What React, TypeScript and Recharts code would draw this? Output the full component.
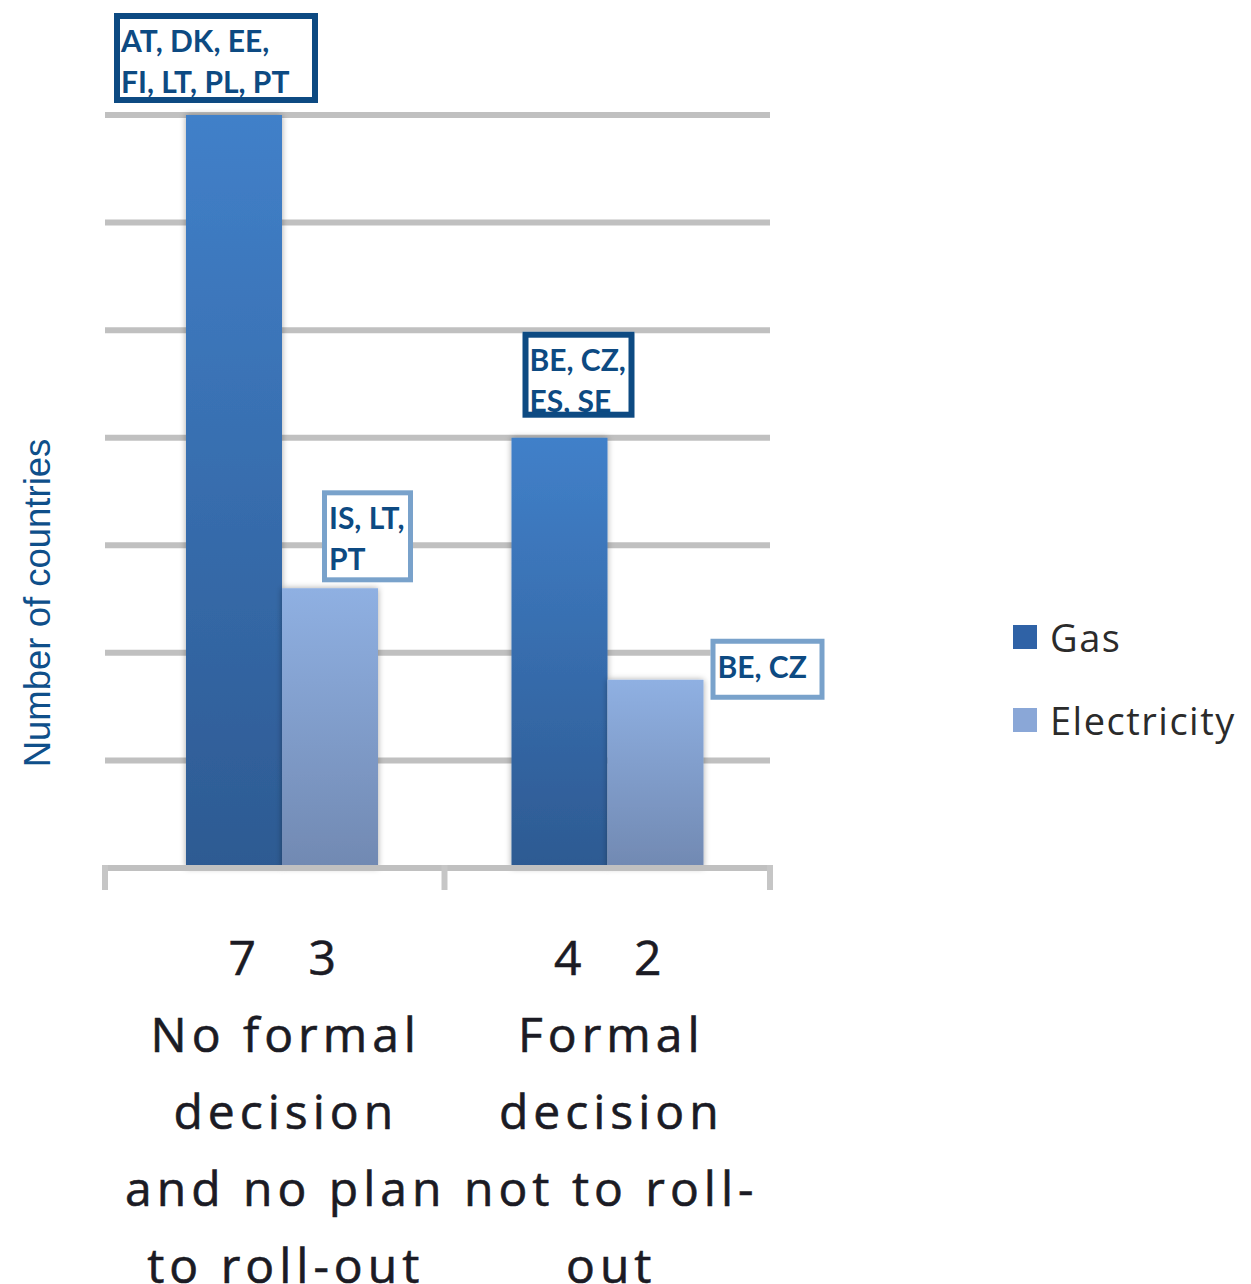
import React from "react";
import { Bar, BarChart, CartesianGrid, LabelList, Legend, XAxis, YAxis } from "recharts";

const categoryLines = [
  ["No formal", "decision", "and no plan", "to roll-out"],
  ["Formal", "decision", "not to roll-", "out"]
];
const gasCounts = [7, 4];
const electricityCounts = [3, 2];
// electricity bars are drawn shorter than their counts in the picture
const electricityHeights = [2.6, 1.75];
const gasCountries = [["AT, DK, EE,", "FI, LT, PL, PT"], ["BE, CZ,", "ES, SE"]];
const electricityCountries = [["IS, LT,", "PT"], ["BE, CZ"]];
const yTicks = [0, 1, 2, 3, 4, 5, 6, 7];

const data = categoryLines.map((lines, i) => ({
  name: lines.join(" "),
  gas: gasCounts[i],
  electricity: electricityHeights[i]
}));

// where each country box sits, relative to its bar's top-left corner
const gasBoxes = [
  { dx: -72, dy: -102, w: 204, h: 90 },
  { dx: 11, dy: -106, w: 112, h: 86 }
];
const electricityBoxes = [
  { dx: 40, dy: -98, w: 91, h: 92 },
  { dx: 103, dy: -41, w: 114, h: 61 }
];

const DARK = "#0d4a82";
const LIGHT = "#79a2cb";
const GRID = "#c0c0c0";
const PAD_LEFT = 14;

function makeNote(notes: string[][], boxes: typeof gasBoxes, border: string, bw: number) {
  return (props: any) => {
    const vb = props.viewBox || props;
    const i = props.index;
    const box = boxes[i];
    if (!box) return null;
    const left = Number(vb.x) + box.dx;
    const top = Number(vb.y) + box.dy;
    return (
      <g>
        <rect x={left} y={top} width={box.w} height={box.h} fill="#fff" />
        {notes[i].map((line, k) => (
          <text
            key={k}
            x={left + 7}
            y={top + 39 + k * 41}
            fill={DARK}
            fontFamily="Lato, 'Open Sans', sans-serif"
            fontWeight={700}
            fontSize={30}
          >
            {line}
          </text>
        ))}
        <rect
          x={left + bw / 2}
          y={top + bw / 2}
          width={box.w - bw}
          height={box.h - bw}
          fill="none"
          stroke={border}
          strokeWidth={bw}
        />
      </g>
    );
  };
}

function NoTick() {
  return <g />;
}

function CategoryTick(props: any) {
  const { x, y, payload, visibleTicksCount } = props;
  const i = payload.index;
  const cx = Number(x);
  const top = Number(y);
  const count = visibleTicksCount || categoryLines.length;
  const band = Number(props.width) > 0 ? (Number(props.width) - PAD_LEFT) / count : 325.5;
  const style = {
    fontFamily: "'Open Sans', sans-serif",
    fontSize: 48,
    fill: "#1b1b24",
    stroke: "#1b1b24",
    strokeWidth: 0.6,
    letterSpacing: 5
  };
  // boundary marks: start of the axis, then the right edge of every band
  const marks = [cx + band / 2];
  if (i === 0) marks.push(cx - band / 2 - PAD_LEFT);
  return (
    <g>
      {marks.map((mx) => (
        <line key={mx} x1={mx} x2={mx} y1={top - 3} y2={top + 22} stroke="#c6c6c6" strokeWidth={6} />
      ))}
      <text x={cx - 37} y={top + 107} textAnchor="middle" {...style}>
        {gasCounts[i]}
      </text>
      <text x={cx + 43} y={top + 107} textAnchor="middle" {...style}>
        {electricityCounts[i]}
      </text>
      {categoryLines[i].map((line, k) => (
        <text key={k} x={cx + 4} y={top + 184 + k * 77} textAnchor="middle" {...style}>
          {line}
        </text>
      ))}
    </g>
  );
}

function YTitle() {
  return (
    <text
      x={37}
      y={603}
      transform="rotate(-90 37 603)"
      textAnchor="middle"
      dominantBaseline="central"
      fill="#0f4f8a"
      fontFamily="'Liberation Sans', Arial, sans-serif"
      fontSize={36.5}
    >
      Number of countries
    </text>
  );
}

function LegendBox() {
  const items = [
    { label: "Gas", color: "#2f62a6" },
    { label: "Electricity", color: "#8aa7d7" }
  ];
  return (
    <div>
      {items.map((it) => (
        <div
          key={it.label}
          style={{ display: "flex", alignItems: "center", height: 83, fontFamily: "'Open Sans', sans-serif", fontSize: 38, color: "#2b2b2b", letterSpacing: 1.5 }}
        >
          <span style={{ display: "inline-block", width: 24, height: 24, background: it.color, marginRight: 13 }} />
          {it.label}
        </div>
      ))}
    </div>
  );
}

export default function App() {
  return (
    <div style={{ position: "absolute", left: 0, top: 0, width: 1251, height: 1284, background: "#fff" }}>
      <BarChart
        width={1251}
        height={1284}
        data={data}
        margin={{ top: 115, right: 243, left: 0, bottom: 0 }}
        barGap={0}
      >
        <defs>
          <linearGradient id="gasFill" x1="0" y1="0" x2="0" y2="1">
            <stop offset="0%" stopColor="#4180c9" />
            <stop offset="100%" stopColor="#2d5a92" />
          </linearGradient>
          <linearGradient id="elecFill" x1="0" y1="0" x2="0" y2="1">
            <stop offset="0%" stopColor="#8fb0e2" />
            <stop offset="100%" stopColor="#7189b2" />
          </linearGradient>
          <filter id="barShadow" x="-20%" y="-5%" width="140%" height="110%">
            <feDropShadow dx="0" dy="0" stdDeviation="3" floodColor="#000" floodOpacity="0.35" />
          </filter>
        </defs>
        <CartesianGrid vertical={false} stroke={GRID} strokeWidth={6} />
        <XAxis
          dataKey="name"
          axisLine={{ stroke: GRID, strokeWidth: 6 }}
          tickLine={false}
          tickSize={0}
          tickMargin={0}
          tick={<CategoryTick />}
          interval={0}
          padding={{ left: PAD_LEFT, right: 0 }}
          height={416}
        />
        <YAxis
          domain={[0, 7]}
          ticks={yTicks}
          tick={<NoTick />}
          axisLine={false}
          tickLine={false}
          width={105}
          label={<YTitle />}
        />
        <Legend
          content={<LegendBox />}
          layout="vertical"
          align="right"
          verticalAlign="middle"
          wrapperStyle={{ position: "absolute", left: 1013, top: 595, width: 238 }}
        />
        <Bar
          dataKey="gas"
          name="Gas"
          fill="url(#gasFill)"
          barSize={96}
          filter="url(#barShadow)"
          isAnimationActive={false}
        >
          <LabelList dataKey="gas" content={makeNote(gasCountries, gasBoxes, DARK, 6)} />
        </Bar>
        <Bar
          dataKey="electricity"
          name="Electricity"
          fill="url(#elecFill)"
          barSize={96}
          filter="url(#barShadow)"
          isAnimationActive={false}
        >
          <LabelList
            dataKey="electricity"
            content={makeNote(electricityCountries, electricityBoxes, LIGHT, 5)}
          />
        </Bar>
      </BarChart>
    </div>
  );
}
